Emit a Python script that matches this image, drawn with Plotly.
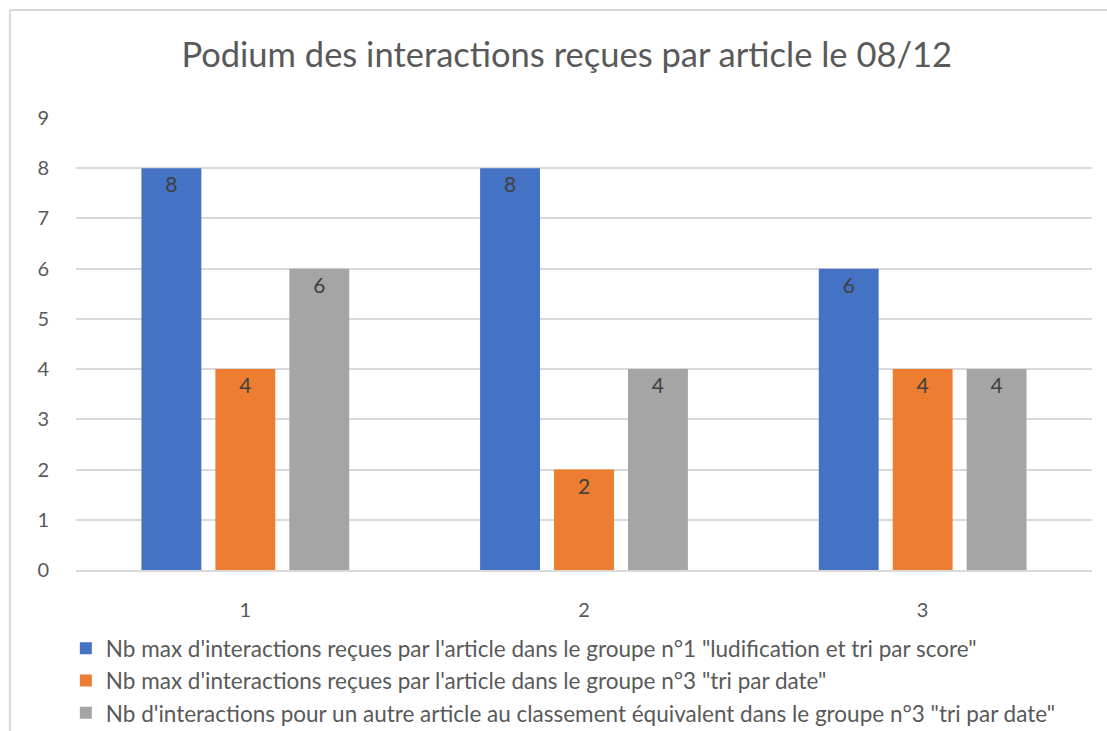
import plotly.graph_objects as go

categories = ["1", "2", "3"]
series_names = [
    "Nb max d'interactions reçues par l'article dans le groupe n°1 \"ludification et tri par score\"",
    "Nb max d'interactions reçues par l'article dans le groupe n°3 \"tri par date\"",
    "Nb d'interactions pour un autre article au classement équivalent dans le groupe n°3 \"tri par date\"",
]
groupe1_score = [8, 8, 6]
groupe3_date = [4, 2, 4]
autre_article = [6, 4, 4]
colors = ["#4472C4", "#ED7D31", "#A5A5A5"]

FONT = "Lato"
GREY = "#595959"

fig = go.Figure()
for name, vals, col in zip(series_names, [groupe1_score, groupe3_date, autre_article], colors):
    fig.add_trace(go.Bar(
        x=categories, y=vals, name=name, marker_color=col, marker_line_width=0,
        text=vals, textposition="inside", insidetextanchor="end",
        textfont=dict(family=FONT, size=21, color="#404040"),
        cliponaxis=False,
    ))

# chart border (left + top only visible)
fig.add_shape(type="line", xref="paper", yref="paper", x0=-0.065, x1=-0.065, y0=-0.5, y1=1.239,
              line=dict(color="#D9D9D9", width=2))
fig.add_shape(type="line", xref="paper", yref="paper", x0=-0.065, x1=1.05, y0=1.239, y1=1.239,
              line=dict(color="#D9D9D9", width=2))

fig.update_layout(
    width=1107, height=731,
    paper_bgcolor="white", plot_bgcolor="white",
    margin=dict(l=76, r=15, t=118, b=161, autoexpand=False),
    barmode="group", bargap=0.345, bargroupgap=0.19,
    title=dict(text="Podium des interactions reçues par article le 08/12",
               x=0.483, xref="paper", xanchor="center", y=0.925, yanchor="middle",
               font=dict(family=FONT, size=34.5, color=GREY)),
    font=dict(family=FONT, color=GREY),
    showlegend=True,
    legend=dict(orientation="v", x=-0.01, xanchor="left",
                yref="container", y=0.142, yanchor="top",
                font=dict(family=FONT, size=22.5, color=GREY),
                itemwidth=30, tracegroupgap=0, traceorder="normal",
                bgcolor="rgba(0,0,0,0)"),
    xaxis=dict(tickfont=dict(family=FONT, size=20, color=GREY), showline=True,
               linecolor="#D9D9D9", linewidth=2, ticks="outside", ticklen=21,
               tickcolor="white", showgrid=False),
    yaxis=dict(range=[0, 9], dtick=1, tickfont=dict(family=FONT, size=20, color=GREY),
               gridcolor="#D9D9D9", gridwidth=2, zeroline=False, showline=False,
               ticks="outside", ticklen=22, tickcolor="white"),
)

fig.write_html("out.html", config={"displayModeBar": False},
               post_script="document.body.style.margin='0';")
